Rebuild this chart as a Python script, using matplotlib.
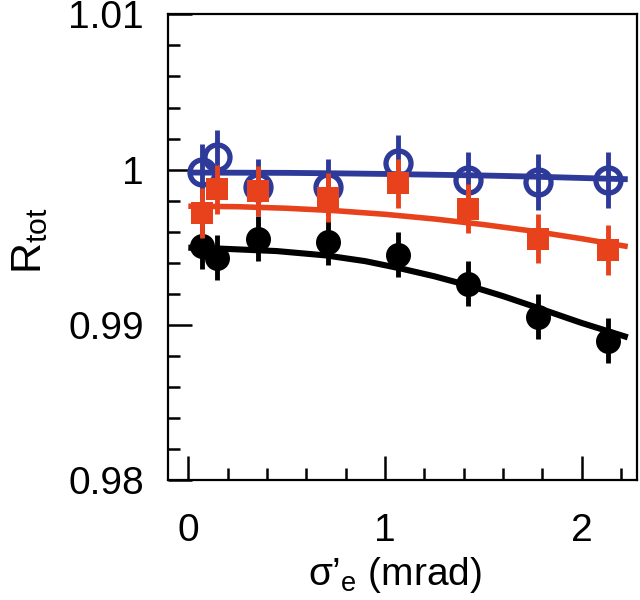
import matplotlib
matplotlib.use('Agg')
import matplotlib.pyplot as plt
from matplotlib.ticker import MultipleLocator, FixedLocator, FixedFormatter

plt.rcParams['font.family'] = ['Liberation Sans', 'DejaVu Sans']
plt.rcParams['mathtext.fontset'] = 'custom'
plt.rcParams['mathtext.rm'] = 'Liberation Sans'
plt.rcParams['mathtext.it'] = 'Liberation Sans:italic'

# ---- data ----
sigma = [0.068, 0.145, 0.356, 0.712, 1.068, 1.424, 1.780, 2.136]

blue_r = [0.99984, 1.00078, 0.99889, 0.99889, 1.00044, 0.99932, 0.99921, 0.99932]
blue_err = [0.0018, 0.0018, 0.0018, 0.0018, 0.0018, 0.0018, 0.0018, 0.0018]

red_r = [0.99721, 0.99872, 0.99863, 0.99820, 0.99911, 0.99749, 0.99555, 0.99480]
red_err = [0.0016, 0.0016, 0.0016, 0.0016, 0.0016, 0.0016, 0.0016, 0.0016]

black_r = [0.99505, 0.99432, 0.99555, 0.99533, 0.99452, 0.99264, 0.99053, 0.98898]
black_err = [0.00145, 0.00145, 0.00145, 0.00145, 0.00145, 0.00145, 0.00145, 0.00145]

# fitted curves
blue_fit_x = [0.0, 0.25, 0.5, 0.75, 1.0, 1.25, 1.5, 1.75, 2.0, 2.235]
blue_fit_y = [0.99981, 0.99980, 0.99979, 0.99976, 0.99972, 0.99967, 0.99962, 0.99955, 0.99946, 0.99938]

red_fit_x = [0.0, 0.25, 0.5, 0.75, 1.0, 1.25, 1.5, 1.75, 2.0, 2.235]
red_fit_y = [0.99764, 0.99761, 0.99751, 0.99735, 0.99712, 0.99682, 0.99646, 0.99604, 0.99555, 0.99504]

black_fit_x = [0.0, 0.16, 0.45, 0.70, 0.90, 1.08, 1.25, 1.42, 1.60, 1.78, 2.0, 2.235]
black_fit_y = [0.99497, 0.99491, 0.99475, 0.99447, 0.99410, 0.99363, 0.99313, 0.99255,
               0.99185, 0.99108, 0.99012, 0.98919]

xtick_vals = [0, 1, 2]
xtick_labels = ['0', '1', '2']
ytick_vals = [0.98, 0.99, 1.0, 1.01]
ytick_labels = ['0.98', '0.99', '1', '1.01']

BLUE = '#2e3a9a'
RED = '#e8421c'
BLACK = '#000000'

fig = plt.figure(figsize=(6.4, 6.0), dpi=100)
ax = fig.add_axes([0.262, 0.2, 0.733, 0.776])

# blue series (open circles)
ax.plot(blue_fit_x, blue_fit_y, color=BLUE, lw=4.2, zorder=2, solid_capstyle='butt')
ax.errorbar(sigma, blue_r, yerr=blue_err, fmt='o', ms=18, mfc='none', mec=BLUE,
            mew=3.8, ecolor=BLUE, elinewidth=3.5, capsize=0, zorder=3)

# black series (filled circles)
ax.plot(black_fit_x, black_fit_y, color=BLACK, lw=4.4, zorder=4, solid_capstyle='butt')
ax.errorbar(sigma, black_r, yerr=black_err, fmt='o', ms=18, mfc=BLACK, mec=BLACK,
            mew=0, ecolor=BLACK, elinewidth=3.5, capsize=0, zorder=5)

# red series (filled squares)
ax.plot(red_fit_x, red_fit_y, color=RED, lw=4.0, zorder=6, solid_capstyle='butt')
ax.errorbar(sigma, red_r, yerr=red_err, fmt='s', ms=16.5, mfc=RED, mec=RED,
            mew=0, ecolor=RED, elinewidth=3.5, capsize=0, zorder=7)

ax.set_xlim(-0.105, 2.281)
ax.set_ylim(0.98, 1.01)

ax.xaxis.set_major_locator(FixedLocator(xtick_vals))
ax.xaxis.set_major_formatter(FixedFormatter(xtick_labels))
ax.xaxis.set_minor_locator(MultipleLocator(0.2))
ax.yaxis.set_major_locator(FixedLocator(ytick_vals))
ax.yaxis.set_major_formatter(FixedFormatter(ytick_labels))
ax.yaxis.set_minor_locator(MultipleLocator(0.002))

ax.tick_params(which='both', direction='in', top=False, right=False, width=1.8, color='black')
ax.tick_params(which='major', length=17)
ax.tick_params(which='minor', length=8.5)
ax.tick_params(axis='x', which='major', pad=24, labelsize=28)
ax.tick_params(axis='y', which='major', pad=17, labelsize=28)

for s in ax.spines.values():
    s.set_linewidth(1.6)

ax.set_xlabel('σ’$_{\\mathregular{e}}$ (mrad)', fontsize=28)
ax.xaxis.set_label_coords(0.484, -0.226)
ax.xaxis.label.set_va('baseline')
ax.set_ylabel('R$_{\\mathregular{tot}}$', fontsize=31)
ax.yaxis.set_label_coords(-0.25, 0.515)

fig.savefig('out.png', dpi=100)
